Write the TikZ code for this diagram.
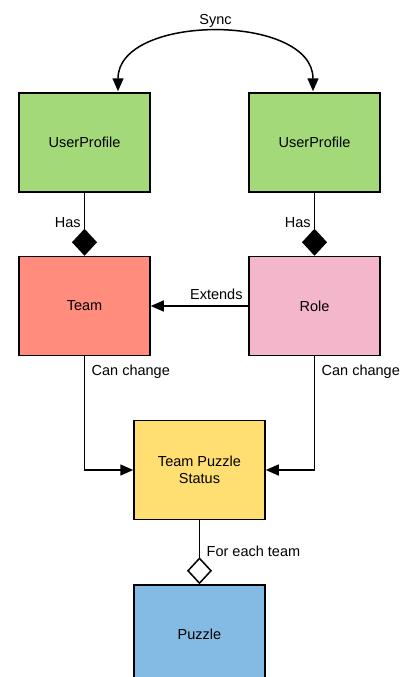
\documentclass[tikz,border=0pt]{standalone}
\usepackage{fontspec}
\setmainfont{Liberation Sans}
\usetikzlibrary{arrows.meta,calc}
\definecolor{pgreen}{HTML}{A4D97A}
\definecolor{pred}{HTML}{FF8C7C}
\definecolor{ppink}{HTML}{F4B6CB}
\definecolor{pyellow}{HTML}{FFDF71}
\definecolor{pblue}{HTML}{83BBE5}
\tikzset{
  box/.style={draw=black, line width=1.5pt, minimum width=131pt, minimum height=99pt,
    align=center, inner sep=2pt},
  link/.style={draw=black, line width=1.5pt},
  lbl/.style={inner sep=3pt},
  tri/.tip={Triangle[length=13pt,width=11pt]},
  fulldia/.tip={Diamond[length=27pt,width=25pt]},
  opendia/.tip={Diamond[open,fill=white,length=27pt,width=25pt]}
}
\begin{document}
\begin{tikzpicture}[x=1pt,y=-1pt,font=\fontsize{14.5}{17.5}\selectfont]
\useasboundingbox (0,0) rectangle (409,677);
\clip (0,0) rectangle (409,677);
\fill[white] (0,0) rectangle (409,677);

% entities
\node[box, fill=pgreen] (up1) at (84.5,142.5) {UserProfile};
\node[box, fill=pgreen] (up2) at (314.5,142.5) {UserProfile};
\node[box, fill=pred] (team) at (84.5,306) {Team};
\node[box, fill=ppink] (role) at (314.5,306) {Role};
\node[box, fill=pyellow] (tps) at (199.5,470) {Team Puzzle\\Status};
\node[box, fill=pblue] (puzzle) at (199.5,634.5) {Puzzle};

% sync between the two profiles
\coordinate (s1) at ($(up1.north)+(33.5,-1)$);
\coordinate (s2) at ($(up2.north)+(-1.5,-1)$);
\draw[link, {tri}-{tri}] (s1) .. controls ($(s1)+(0,-78)$) and ($(s2)+(0,-78)$) .. (s2)
  node[pos=0.5, above, inner sep=4pt] {Sync};

% composition
\draw[link, fulldia-] (team.north) -- node[pos=0.53, left, lbl] {Has} (up1.south);
\draw[link, fulldia-] (role.north) -- node[pos=0.53, left, lbl] {Has} (up2.south);

% inheritance
\draw[link, -tri] (role.west) -- (team.east);
\node[anchor=south east, inner sep=2.5pt] at ($(role.west)+(-3,-4)$) {Extends};

% status changes
\draw[link, -tri] (team.south) |- (tps.west);
\draw[link, -tri] (role.south) |- (tps.east);
\node[anchor=west, lbl] at ($(team.south)+(4,15)$) {Can change};
\node[anchor=west, lbl] at ($(role.south)+(4,15)$) {Can change};

% aggregation
\draw[link, opendia-] (puzzle.north) -- (tps.south);
\node[anchor=west, lbl] at ($(tps.south)+(4,31)$) {For each team};
\end{tikzpicture}
\end{document}
